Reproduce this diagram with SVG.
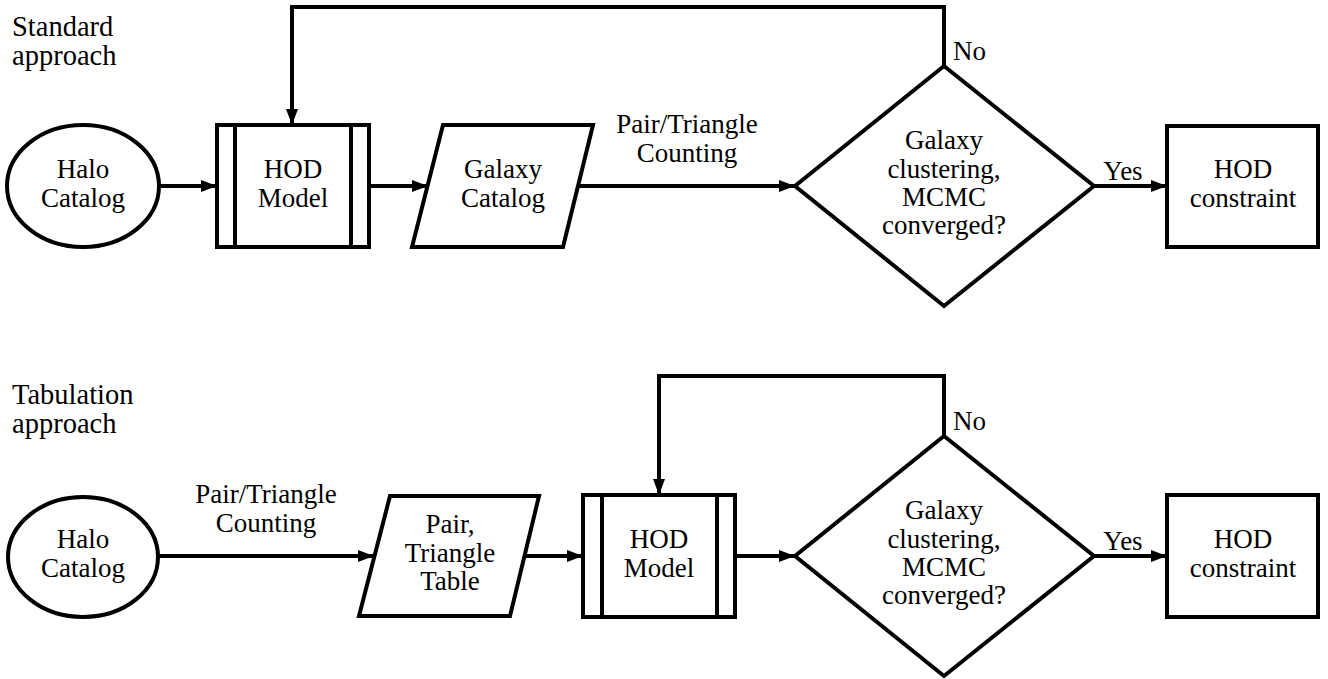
<svg xmlns="http://www.w3.org/2000/svg" width="1328" height="679" viewBox="0 0 1328 679" font-family="Liberation Serif, Times New Roman, Times, Noto Serif, DejaVu Serif, serif">
<style>
.s{fill:none;stroke:#000;stroke-width:4;stroke-linejoin:miter}
.n{fill:#fff;stroke:#000;stroke-width:4;stroke-linejoin:miter}
.c{fill:none;stroke:#000;stroke-width:4}
text{font-size:27px;fill:#000}
.m{text-anchor:middle}
.t{font-size:28.5px}
</style>
<defs>
<marker id="ah" viewBox="0 0 16 12" refX="16" refY="6" markerWidth="16" markerHeight="12" markerUnits="userSpaceOnUse" orient="auto">
<path d="M0,0 L16,6 L0,12 Z" fill="#000"/>
</marker>
</defs>
<rect width="1328" height="679" fill="#fff"/>

<g id="labels">
<text class="t" x="12" y="36">Standard</text>
<text class="t" x="12" y="65">approach</text>
<text class="t" x="12" y="404">Tabulation</text>
<text class="t" x="12" y="433">approach</text>
</g>

<g id="connectors">
<line class="c" x1="159" y1="186" x2="217" y2="186" marker-end="url(#ah)"/>
<line class="c" x1="369" y1="186" x2="428" y2="186" marker-end="url(#ah)"/>
<line class="c" x1="579" y1="186" x2="795" y2="186" marker-end="url(#ah)"/>
<text class="m" x="687" y="133">Pair/Triangle</text>
<text class="m" x="687" y="162">Counting</text>
<line class="c" x1="1094" y1="186" x2="1167" y2="186" marker-end="url(#ah)"/>
<text class="m" x="1123" y="180">Yes</text>
<polyline class="c" points="944,66 944,7 292,7 292,125" marker-end="url(#ah)"/>
<text x="953" y="60">No</text>

<line class="c" x1="157" y1="556" x2="374" y2="556" marker-end="url(#ah)"/>
<text class="m" x="266" y="503">Pair/Triangle</text>
<text class="m" x="266" y="532">Counting</text>
<line class="c" x1="525" y1="556" x2="583" y2="556" marker-end="url(#ah)"/>
<line class="c" x1="735" y1="556" x2="795" y2="556" marker-end="url(#ah)"/>
<line class="c" x1="1094" y1="556" x2="1167" y2="556" marker-end="url(#ah)"/>
<text class="m" x="1123" y="550">Yes</text>
<polyline class="c" points="944,436 944,376 659,376 659,495" marker-end="url(#ah)"/>
<text x="953" y="430">No</text>
</g>

<g id="halo1">
<ellipse class="n" cx="83" cy="186" rx="76" ry="61"/>
<text class="m" x="83" y="178">Halo</text>
<text class="m" x="83" y="207">Catalog</text>
</g>
<g id="hod1">
<rect class="n" x="217" y="125" width="152" height="122"/>
<line class="s" x1="235" y1="125" x2="235" y2="247"/>
<line class="s" x1="351" y1="125" x2="351" y2="247"/>
<text class="m" x="293" y="178">HOD</text>
<text class="m" x="293" y="207">Model</text>
</g>
<g id="galaxy1">
<polygon class="n" points="443,125 593,125 563,247 412,247"/>
<text class="m" x="503" y="178">Galaxy</text>
<text class="m" x="503" y="207">Catalog</text>
</g>
<g id="decision1">
<polygon class="n" points="944,66 1094,186 944,306 795,186"/>
<text class="m" x="944" y="149">Galaxy</text>
<text class="m" x="944" y="178">clustering,</text>
<text class="m" x="944" y="206">MCMC</text>
<text class="m" x="944" y="234">converged?</text>
</g>
<g id="constraint1">
<rect class="n" x="1167" y="126" width="151" height="121"/>
<text class="m" x="1243" y="178">HOD</text>
<text class="m" x="1243" y="207">constraint</text>
</g>

<g id="halo2">
<ellipse class="n" cx="83" cy="557" rx="75" ry="60"/>
<text class="m" x="83" y="548">Halo</text>
<text class="m" x="83" y="577">Catalog</text>
</g>
<g id="table2">
<polygon class="n" points="390,496 539,496 510,616 359,616"/>
<text class="m" x="450" y="533">Pair,</text>
<text class="m" x="450" y="562">Triangle</text>
<text class="m" x="450" y="590">Table</text>
</g>
<g id="hod2">
<rect class="n" x="583" y="495" width="152" height="122"/>
<line class="s" x1="602" y1="495" x2="602" y2="617"/>
<line class="s" x1="717" y1="495" x2="717" y2="617"/>
<text class="m" x="659" y="548">HOD</text>
<text class="m" x="659" y="577">Model</text>
</g>
<g id="decision2">
<polygon class="n" points="944,436 1094,556 944,676 795,556"/>
<text class="m" x="944" y="519">Galaxy</text>
<text class="m" x="944" y="548">clustering,</text>
<text class="m" x="944" y="576">MCMC</text>
<text class="m" x="944" y="604">converged?</text>
</g>
<g id="constraint2">
<rect class="n" x="1167" y="495" width="151" height="122"/>
<text class="m" x="1243" y="548">HOD</text>
<text class="m" x="1243" y="577">constraint</text>
</g>
</svg>
